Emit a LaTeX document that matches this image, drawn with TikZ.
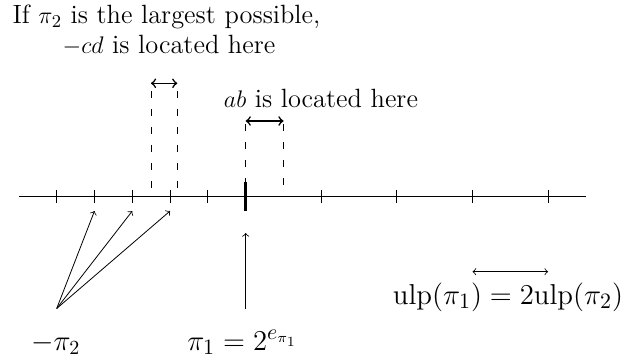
\documentclass[tikz,border=0pt]{standalone}
\begin{document}
\begin{tikzpicture}[x=0.5pt,y=-0.5pt,
  font=\fontsize{13.2}{15}\selectfont,
  axisline/.style={line width=0.5pt},
  tickmark/.style={line width=0.5pt},
  bigtick/.style={line width=1.3pt},
  guide/.style={line width=0.5pt,dash pattern=on 3.5pt off 5.5pt},
  span/.style={thick,<->},
  ptr/.style={line width=0.4pt,->},
  lbl/.style={inner sep=0pt,anchor=base},
  bigmath/.style={font=\fontsize{15}{18}\selectfont}]
\useasboundingbox (0,0) rectangle (621,364);
% axis
\coordinate (L) at (18.9,196);
\coordinate (R) at (585.9,196);
\draw[axisline] (L) -- (R);
\foreach \x in {56.7,94.5,132.3,170.1,207.9,321.3,396.9,472.5,548.1}
  \draw[tickmark] (\x,189.5) -- (\x,202.5);
\draw[bigtick] (245.7,182) -- (245.7,211);
% -cd region
\coordinate (c1) at (151,83.3);
\coordinate (c2) at (177.3,83.3);
\coordinate (c1t) at (151,91);
\coordinate (c2t) at (177.3,91);
\coordinate (c1b) at (151,196);
\coordinate (c2b) at (177.3,196);
\draw[guide] (c1t) -- (c1b);
\draw[guide] (c2t) -- (c2b);
\draw[span] (c1) -- (c2);
% ab region
\coordinate (a1) at (245.7,121);
\coordinate (a2) at (283.5,121);
\coordinate (a1t) at (245.7,124);
\coordinate (a2t) at (283.5,124);
\coordinate (a1b) at (245.7,196);
\coordinate (a2b) at (283.5,196);
\draw[guide] (a1t) -- (a1b);
\draw[guide] (a2t) -- (a2b);
\draw[span] (a1) -- (a2);
% labels top
\node[lbl] (t1) at (166.5,24) {If $\pi_2$ is the largest possible,};
\node[lbl] (t2) at (169,53) {$-cd$ is located here};
\node[lbl] (tab) at (321,107) {$ab$ is located here};
% -pi2 arrows
\coordinate (src) at (56.7,308.5);
\coordinate (e1) at (94.5,211);
\coordinate (e2) at (132.3,211);
\coordinate (e3) at (170.1,211);
\draw[ptr] (src) -- (e1);
\draw[ptr] (src) -- (e2);
\draw[ptr] (src) -- (e3);
\node[lbl,font=\fontsize{14}{16}\selectfont] (mpi) at (55.8,350) {$-\pi_2$};
% pi1 arrow
\coordinate (p0) at (245.7,309);
\coordinate (p1) at (245.7,233);
\draw[ptr] (p0) -- (p1);
\node[lbl,bigmath] (pi1) at (242.5,350) {$\pi_1 = 2^{e_{\pi_1}}$};
% ulp
\coordinate (u1) at (472.5,271.7);
\coordinate (u2) at (548.1,271.7);
\draw[ptr,<->] (u1) -- (u2);
\node[lbl,bigmath] (ulp) at (508,304) {$\mathrm{ulp}(\pi_1) = 2\mathrm{ulp}(\pi_2)$};
\end{tikzpicture}
\end{document}
